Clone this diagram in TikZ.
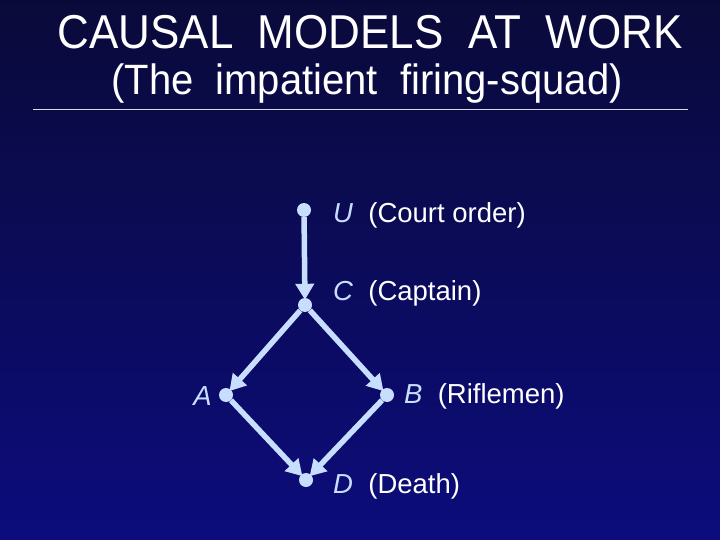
\documentclass[tikz,border=0pt]{standalone}
\usepackage{fontspec}
\setmainfont{Liberation Sans}
\usetikzlibrary{arrows.meta,positioning}
\definecolor{slidetop}{RGB}{10,10,58}
\definecolor{slidebot}{RGB}{12,12,124}
\definecolor{edgeblue}{RGB}{200,222,255}
\tikzset{
  vardot/.style={circle, fill=edgeblue, inner sep=0pt, minimum size=14pt},
  causal/.style={-{Triangle[width=18pt,length=16pt]}, line width=5.5pt, edgeblue, shorten >=-2pt},
  varlabel/.style={font=\fontsize{27.5}{32}\selectfont, text=white, inner sep=0pt},
}
\newcommand{\vname}[1]{\textcolor{edgeblue}{\itshape #1}}
\begin{document}
\begin{tikzpicture}[x=1pt, y=-1pt]
    % Background
    \shade[top color=slidetop, bottom color=slidebot] (0,0) rectangle (720,540);
    \useasboundingbox (0,0) rectangle (720,540);

    % Title
    \node[text=white, font=\fontsize{44}{50}\selectfont, inner sep=0pt, yscale=1.08] (title) at (370,32)
        {CAUSAL\ \ MODELS\ \ AT\ \ WORK};
    \node[text=white, font=\fontsize{40}{46}\selectfont, inner sep=0pt, yscale=1.06] (subtitle) at (367,84)
        {(The\ \ impatient\ \ firing-squad)};
    \coordinate (ruleL) at (33,109);
    \coordinate (ruleR) at (688,109);
    \draw[white!85!slidetop, line width=0.8pt] (ruleL) -- (ruleR);

    % Variables
    \node[vardot] (U) at (304,210) {};
    \node[vardot] (C) at (305,305) {};
    \node[vardot] (A) at (226,395) {};
    \node[vardot] (B) at (387,395) {};
    \node[vardot] (D) at (306,480) {};

    % Labels
    \node[varlabel, anchor=west] at (333,215) {\vname{U}\ \ (Court order)};
    \node[varlabel, anchor=west] at (333,293) {\vname{C}\ \ (Captain)};
    \node[varlabel, anchor=east] at (212,396) {\vname{A}};
    \node[varlabel, anchor=west] at (404,396) {\vname{B}\ \ (Riflemen)};
    \node[varlabel, anchor=west] at (333,486) {\vname{D}\ \ (Death)};

    % Edges
    \draw[causal] (U) -- (C);
    \draw[causal] (C) -- (A);
    \draw[causal] (C) -- (B);
    \draw[causal] (A) -- (D);
    \draw[causal] (B) -- (D);
\end{tikzpicture}
\end{document}
